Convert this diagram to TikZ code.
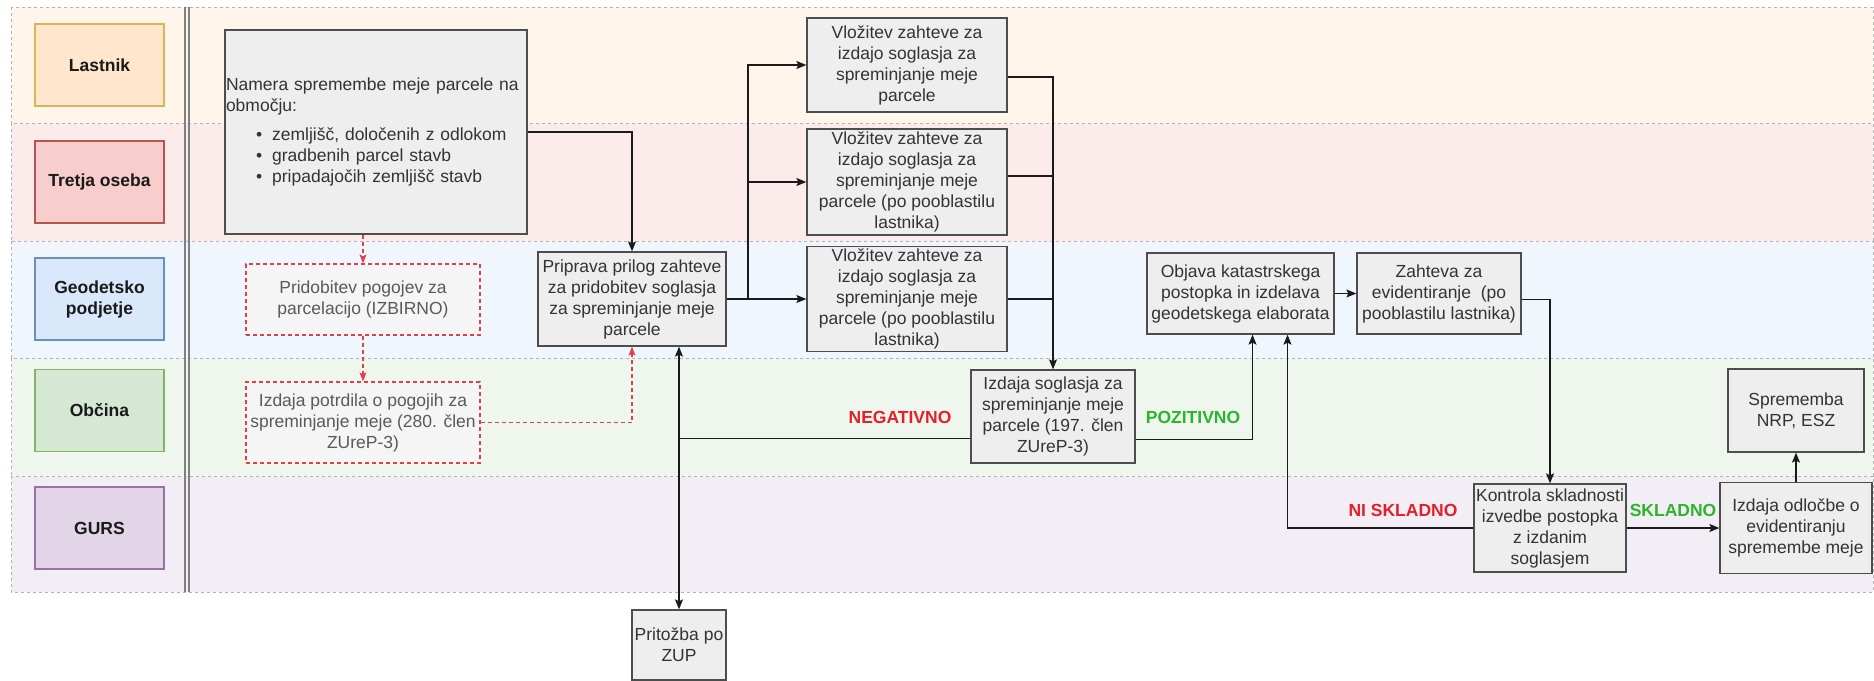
\documentclass[tikz,border=0pt]{standalone}
\usepackage{fontspec}
\setmainfont{Liberation Sans}
\usetikzlibrary{
    arrows.meta
}
\newcommand{\diagfont}{\fontsize{17.5}{21}\selectfont}
\definecolor{lastnikfill}{HTML}{FFE6CC}
\definecolor{lastnikline}{HTML}{D6B656}
\definecolor{tretjafill}{HTML}{F8CECC}
\definecolor{tretjaline}{HTML}{B85450}
\definecolor{geofill}{HTML}{DAE8FC}
\definecolor{geoline}{HTML}{6C8EBF}
\definecolor{obcinafill}{HTML}{D5E8D4}
\definecolor{obcinaline}{HTML}{82B366}
\definecolor{gursfill}{HTML}{E1D5E7}
\definecolor{gursline}{HTML}{9673A6}
\definecolor{lanegrey}{HTML}{B3B3B3}
\definecolor{dividergrey}{HTML}{808080}
\definecolor{boxfill}{HTML}{EEEEEE}
\definecolor{boxline}{HTML}{4D4D4D}
\definecolor{boxtext}{HTML}{333333}
\definecolor{optfill}{HTML}{F5F5F5}
\definecolor{optred}{HTML}{E0404A}
\definecolor{opttext}{HTML}{5A5A5A}
\definecolor{flowline}{HTML}{1A1A1A}
\definecolor{nored}{HTML}{E3202A}
\definecolor{okgreen}{HTML}{2CB52C}
\tikzset {
    lane/.style = {draw = lanegrey, dash pattern = on 3pt off 3pt, line width = 0.8pt},
    divider/.style = {draw = dividergrey, line width = 1.2pt},
    lanelabel/.style = {
        line width = 1.2pt, align = center, font = \diagfont\bfseries, text = flowline,
        minimum width = 129pt, minimum height = 82pt
    },
    box/.style = {
        draw = boxline, fill = boxfill, line width = 1.3pt, text = boxtext,
        align = center, inner xsep = 1pt, inner ysep = 0pt
    },
    optional box/.style = {box, draw = optred, fill = optfill, text = opttext, dash pattern = on 4pt off 3pt},
    flow/.style = {draw = flowline, line width = 1.2pt, arrows = {-Stealth[length = 10pt, width = 8pt, inset = 2pt]}},
    two way/.style = {flow, arrows = {Stealth[length = 10pt, width = 8pt, inset = 2pt]-Stealth[length = 10pt, width = 8pt, inset = 2pt]}},
    link/.style = {draw = flowline, line width = 1.2pt},
    optional flow/.style = {
        draw = optred, line width = 1.1pt, dash pattern = on 4pt off 3pt,
        arrows = {-Stealth[length = 9pt, width = 7pt, inset = 2pt]}
    },
    negative/.style = {text = nored, font = \diagfont\bfseries},
    positive/.style = {text = okgreen, font = \diagfont\bfseries}
}

\begin{document}
\begin{tikzpicture}[x = 1pt, y = -1pt, font = \diagfont]
    \useasboundingbox (0, 0) rectangle (1874, 680);
    \fill [white] (0, 0) rectangle (1874, 680);
    \draw [lane, fill = lastnikfill!40] (11, 7) rectangle (1873, 123);
    \draw [lane, fill = tretjafill!40] (11, 123) rectangle (1873, 241);
    \draw [lane, fill = geofill!40] (11, 241) rectangle (1873, 358);
    \draw [lane, fill = obcinafill!40] (11, 358) rectangle (1873, 476);
    \draw [lane, fill = gursfill!40] (11, 476) rectangle (1873, 592);
    \draw [divider] (185, 7) -- (185, 592);
    \draw [divider] (189, 7) -- (189, 592);

    \node (lastnik) [lanelabel, fill = lastnikfill, draw = lastnikline] at (99.5, 65) {Lastnik};
    \node (tretja) [lanelabel, fill = tretjafill, draw = tretjaline] at (99.5, 182) {Tretja oseba};
    \node (geodet) [lanelabel, fill = geofill, draw = geoline] at (99.5, 299) {Geodetsko\\podjetje};
    \node (obcina) [lanelabel, fill = obcinafill, draw = obcinaline] at (99.5, 410.5) {Občina};
    \node (gurs) [lanelabel, fill = gursfill, draw = gursline] at (99.5, 528) {GURS};

    \node (namera) [box, align = left, text width = 300pt, minimum height = 204pt] at (376, 132) {%
        Namera spremembe meje parcele na\\
        območju:\\[8pt]
        \hspace*{30pt}\textbullet\hspace{10pt}zemljišč, določenih z odlokom\\
        \hspace*{30pt}\textbullet\hspace{10pt}gradbenih parcel stavb\\
        \hspace*{30pt}\textbullet\hspace{10pt}pripadajočih zemljišč stavb};
    \node (pridobitev) [optional box, minimum width = 234pt, minimum height = 71pt] at (363, 299.5) {Pridobitev pogojev za\\parcelacijo (IZBIRNO)};
    \node (potrdila) [optional box, minimum width = 234pt, minimum height = 81pt] at (363, 422.5) {Izdaja potrdila o pogojih za\\spreminjanje meje (280. člen\\ZUreP-3)};
    \node (priprava) [box, minimum width = 188pt, minimum height = 94pt] at (632, 299) {Priprava prilog zahteve\\za pridobitev soglasja\\za spreminjanje meje\\parcele};
    \node (vl1) [box, minimum width = 200pt, minimum height = 94pt] at (907, 65) {Vložitev zahteve za\\izdajo soglasja za\\spreminjanje meje\\parcele};
    \node (vl2) [box, minimum width = 200pt, minimum height = 106pt] at (907, 182) {Vložitev zahteve za\\izdajo soglasja za\\spreminjanje meje\\parcele (po pooblastilu\\lastnika)};
    \node (vl3) [box, minimum width = 200pt, minimum height = 105pt] at (907, 299) {Vložitev zahteve za\\izdajo soglasja za\\spreminjanje meje\\parcele (po pooblastilu\\lastnika)};
    \node (soglasje) [box, minimum width = 164pt, minimum height = 93pt] at (1053, 416.5) {Izdaja soglasja za\\spreminjanje meje\\parcele (197. člen\\ZUreP-3)};
    \node (pritozba) [box, minimum width = 94pt, minimum height = 70pt] at (679, 645) {Pritožba po\\ZUP};
    \node (objava) [box, minimum width = 187pt, minimum height = 81pt] at (1240.5, 293.5) {Objava katastrskega\\postopka in izdelava\\geodetskega elaborata};
    \node (zahteva) [box, minimum width = 164pt, minimum height = 81pt] at (1439, 293.5) {Zahteva za\\evidentiranje\ \ (po\\pooblastilu lastnika)};
    \node (kontrola) [box, minimum width = 152pt, minimum height = 88pt] at (1550, 528) {Kontrola skladnosti\\izvedbe postopka\\z izdanim\\soglasjem};
    \node (odlocba) [box, minimum width = 152pt, minimum height = 91pt] at (1796, 528) {Izdaja odločbe o\\evidentiranju\\spremembe meje};
    \node (sprememba) [box, minimum width = 136pt, minimum height = 83pt] at (1796, 410.5) {Sprememba\\NRP, ESZ};

    \node (negativno) [negative] at (900, 417) {NEGATIVNO};
    \node (pozitivno) [positive] at (1193, 417) {POZITIVNO};
    \node (niskladno) [negative] at (1403, 510) {NI SKLADNO};
    \node (skladno) [positive] at (1673, 510) {SKLADNO};

    \coordinate (split) at (748, 299);
    \coordinate (vl1out) at ([yshift = -12pt] vl1.east);
    \coordinate (vl2out) at ([yshift = 6pt] vl2.east);
    \coordinate (negout) at ([yshift = -22pt] soglasje.west);
    \coordinate (posout) at ([yshift = -23pt] soglasje.east);
    \coordinate (zahout) at ([yshift = -6pt] zahteva.east);

    \draw [flow] (namera) -| (priprava);
    \draw [optional flow] (namera.south -| pridobitev) -- (pridobitev);
    \draw [optional flow] (pridobitev) -- (potrdila);
    \draw [optional flow] (potrdila) -| (priprava);
    \draw [flow] (priprava) -- (priprava -| vl3.west);
    \draw [flow] (split) |- (vl1);
    \draw [flow] (split) |- (vl2);
    \draw [flow] (vl1out) -| (soglasje);
    \draw [link] (vl2out) -- (vl2out -| soglasje);
    \draw [link] (vl3) -- (vl3 -| soglasje);
    \draw [link] (negout) -- (negout -| pritozba);
    \draw [two way] (priprava.south -| pritozba) -- (pritozba);
    \draw [flow] (posout) -| ([xshift = 12pt] objava.south);
    \draw [flow] (objava) -- (zahteva);
    \draw [flow] (zahout) -| (kontrola);
    \draw [flow] (kontrola) -| ([xshift = 47pt] objava.south);
    \draw [flow] (kontrola) -- (odlocba);
    \draw [flow] (odlocba) -- (sprememba);
\end{tikzpicture}
\end{document}
